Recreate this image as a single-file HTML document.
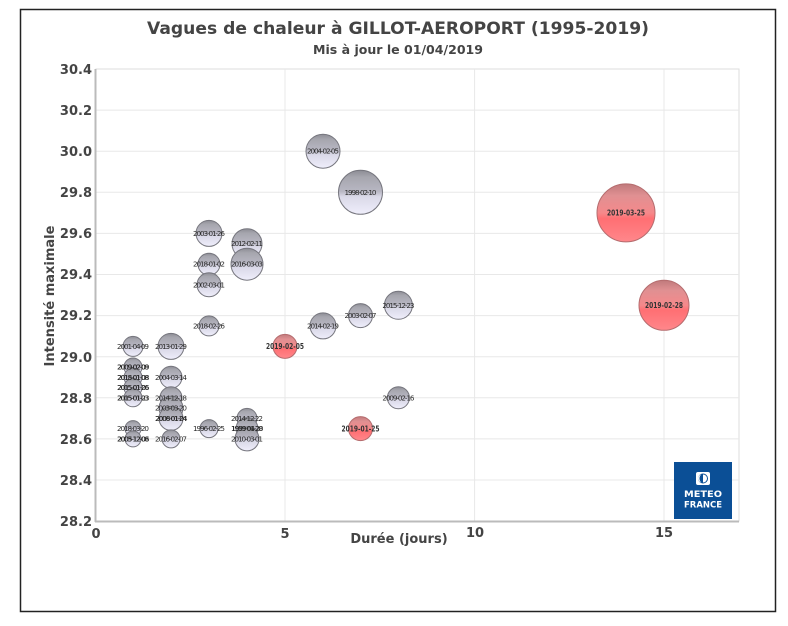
<!DOCTYPE html>
<html><head><meta charset="utf-8"><style>
html,body{margin:0;padding:0;background:#fff;}
svg{display:block;}
text{font-family:"DejaVu Sans","Liberation Sans",sans-serif;}
</style></head><body>
<svg width="788" height="626" viewBox="0 0 788 626" xmlns="http://www.w3.org/2000/svg">
<defs>
<linearGradient id="g" x1="0" y1="0" x2="0" y2="1">
<stop offset="0" stop-color="#8c8c94"/>
<stop offset="0.15" stop-color="#a6a6ae"/>
<stop offset="0.48" stop-color="#b8b7c3"/>
<stop offset="0.6" stop-color="#dad9e8"/>
<stop offset="1" stop-color="#efeefb"/>
</linearGradient>
<linearGradient id="r" x1="0" y1="0" x2="0" y2="1">
<stop offset="0" stop-color="#c07a7c"/>
<stop offset="0.2" stop-color="#e09092"/>
<stop offset="0.5" stop-color="#f5898b"/>
<stop offset="0.6" stop-color="#ff6f73"/>
<stop offset="1" stop-color="#ff878b"/>
</linearGradient>
</defs>
<rect x="0" y="0" width="788" height="626" fill="#fff"/>
<rect x="20.5" y="9.5" width="755" height="602" fill="#fff" stroke="#222" stroke-width="1.5"/>
<!-- title -->
<text x="398" y="34" text-anchor="middle" font-size="16.5" font-weight="bold" fill="#444" textLength="502" lengthAdjust="spacingAndGlyphs">Vagues de chaleur à GILLOT-AEROPORT (1995-2019)</text>
<text x="398" y="54" text-anchor="middle" font-size="12" font-weight="bold" fill="#444" textLength="170" lengthAdjust="spacingAndGlyphs">Mis à jour le 01/04/2019</text>
<!-- plot box -->
<rect x="96" y="69" width="643" height="452" fill="#fff" stroke="#dedede" stroke-width="1"/>
<g stroke="#e8e8e8" stroke-width="1">
<line x1="96" y1="110.1" x2="739" y2="110.1"/>
<line x1="96" y1="151.2" x2="739" y2="151.2"/>
<line x1="96" y1="192.3" x2="739" y2="192.3"/>
<line x1="96" y1="233.4" x2="739" y2="233.4"/>
<line x1="96" y1="274.5" x2="739" y2="274.5"/>
<line x1="96" y1="315.6" x2="739" y2="315.6"/>
<line x1="96" y1="356.7" x2="739" y2="356.7"/>
<line x1="96" y1="397.8" x2="739" y2="397.8"/>
<line x1="96" y1="438.9" x2="739" y2="438.9"/>
<line x1="96" y1="480" x2="739" y2="480"/>
<line x1="285" y1="69" x2="285" y2="521"/>
<line x1="474.6" y1="69" x2="474.6" y2="521"/>
<line x1="664" y1="69" x2="664" y2="521"/>
</g>
<line x1="95.5" y1="69" x2="95.5" y2="522" stroke="#bbb" stroke-width="2"/>
<line x1="95" y1="521.5" x2="739" y2="521.5" stroke="#bbb" stroke-width="2"/>
<!-- y tick labels -->
<g font-size="13" font-weight="bold" fill="#444" text-anchor="end">
<text x="92" y="74">30.4</text>
<text x="92" y="115">30.2</text>
<text x="92" y="156">30.0</text>
<text x="92" y="197">29.8</text>
<text x="92" y="238">29.6</text>
<text x="92" y="279">29.4</text>
<text x="92" y="320">29.2</text>
<text x="92" y="362">29.0</text>
<text x="92" y="403">28.8</text>
<text x="92" y="444">28.6</text>
<text x="92" y="485">28.4</text>
<text x="92" y="526">28.2</text>
</g>
<g font-size="13" font-weight="bold" fill="#444" text-anchor="middle">
<text x="96" y="538">0</text>
<text x="285" y="538">5</text>
<text x="475" y="537">10</text>
<text x="664" y="537">15</text>
</g>
<text x="399" y="543" text-anchor="middle" font-size="13" font-weight="bold" fill="#444">Durée (jours)</text>
<text transform="translate(54,296) rotate(-90)" text-anchor="middle" font-size="13" font-weight="bold" fill="#444">Intensité maximale</text>
<!-- bubbles -->
<g stroke="#76767e" stroke-width="1" fill="url(#g)">
<circle cx="323" cy="151.2" r="17"/>
<circle cx="360.5" cy="192.3" r="22"/>
<circle cx="209" cy="233.4" r="13"/>
<circle cx="247" cy="243.7" r="15"/>
<circle cx="209" cy="264.2" r="11"/>
<circle cx="247" cy="264.2" r="16"/>
<circle cx="209" cy="284.8" r="12"/>
<circle cx="209" cy="325.9" r="10"/>
<circle cx="323" cy="325.9" r="13"/>
<circle cx="360.5" cy="315.6" r="12"/>
<circle cx="398.4" cy="305.3" r="14"/>
<circle cx="133" cy="346.4" r="10"/>
<circle cx="171" cy="346.4" r="13"/>
<circle cx="133" cy="367" r="9"/>
<circle cx="133" cy="377.3" r="9"/>
<circle cx="171" cy="377.3" r="11"/>
<circle cx="133" cy="387.5" r="9"/>
<circle cx="133" cy="397.8" r="9"/>
<circle cx="171" cy="397.8" r="11"/>
<circle cx="171" cy="408.1" r="12"/>
<circle cx="171" cy="418.4" r="12"/>
<circle cx="398.4" cy="397.8" r="11"/>
<circle cx="133" cy="428.6" r="8"/>
<circle cx="133" cy="438.9" r="8"/>
<circle cx="171" cy="438.9" r="9"/>
<circle cx="209" cy="428.6" r="9"/>
<circle cx="247" cy="418.4" r="10"/>
<circle cx="247" cy="428.6" r="11"/>
<circle cx="247" cy="438.9" r="12"/>
</g>
<g stroke="#b56c6e" stroke-width="1" fill="url(#r)">
<circle cx="626" cy="212.9" r="29"/>
<circle cx="664" cy="305.3" r="25"/>
<circle cx="285" cy="346.4" r="12"/>
<circle cx="360.5" cy="428.6" r="12"/>
</g>
<!-- labels -->
<g font-family="Liberation Sans, sans-serif" font-size="7.2" fill="#2a2a2a" text-anchor="middle" lengthAdjust="spacingAndGlyphs">
<text x="323" y="153.7" textLength="32">2004-02-05</text>
<text x="360.5" y="194.8" textLength="32">1998-02-10</text>
<text x="209" y="235.9" textLength="32">2003-01-26</text>
<text x="247" y="246.2" textLength="32">2012-02-11</text>
<text x="209" y="266.7" textLength="32">2018-01-02</text>
<text x="247" y="266.7" textLength="32">2016-03-03</text>
<text x="209" y="287.3" textLength="32">2002-03-01</text>
<text x="209" y="328.4" textLength="32">2018-02-26</text>
<text x="323" y="328.4" textLength="32">2014-02-19</text>
<text x="360.5" y="318.1" textLength="32">2003-02-07</text>
<text x="398.4" y="307.8" textLength="32">2015-12-23</text>
<text x="133" y="348.9" textLength="32">2001-04-09</text>
<text x="171" y="348.9" textLength="32">2013-01-29</text>
<text x="133" y="369.5" textLength="32">2009-02-08</text>
<text x="133.4" y="369.5" textLength="32">2009-02-09</text>
<text x="133" y="379.8" textLength="32">2018-01-08</text>
<text x="133.4" y="379.8" textLength="32">2015-01-08</text>
<text x="171" y="379.8" textLength="32">2004-03-14</text>
<text x="133" y="390" textLength="32">2005-01-26</text>
<text x="133.4" y="390" textLength="32">2015-01-06</text>
<text x="133" y="400.3" textLength="32">2005-01-03</text>
<text x="133.4" y="400.3" textLength="32">2015-01-23</text>
<text x="171" y="400.3" textLength="32">2014-12-18</text>
<text x="171" y="410.6" textLength="32">2003-03-20</text>
<text x="171" y="420.9" textLength="32">2006-01-24</text>
<text x="171.4" y="420.9" textLength="32">2008-01-04</text>
<text x="398.4" y="400.3" textLength="32">2009-02-16</text>
<text x="133" y="431.1" textLength="32">2018-03-20</text>
<text x="133" y="441.4" textLength="32">2003-12-08</text>
<text x="133.4" y="441.4" textLength="32">2005-12-06</text>
<text x="171" y="441.4" textLength="32">2016-02-07</text>
<text x="209" y="431.1" textLength="32">1996-02-25</text>
<text x="247" y="420.9" textLength="32">2014-12-22</text>
<text x="247" y="431.1" textLength="32">1999-01-28</text>
<text x="247.4" y="431.1" textLength="32">1959-04-20</text>
<text x="247" y="441.4" textLength="32">2010-03-01</text>
</g>
<g font-family="DejaVu Sans, sans-serif" font-size="7.5" font-weight="bold" fill="#333" text-anchor="middle">
<text x="626" y="215.6" textLength="38" lengthAdjust="spacingAndGlyphs">2019-03-25</text>
<text x="664" y="308" textLength="38" lengthAdjust="spacingAndGlyphs">2019-02-28</text>
<text x="285" y="349.1" textLength="38" lengthAdjust="spacingAndGlyphs">2019-02-05</text>
<text x="360.5" y="431.3" textLength="38" lengthAdjust="spacingAndGlyphs">2019-01-25</text>
</g>
<!-- logo -->
<rect x="674" y="462" width="58" height="57" fill="#0b4f96"/>
<rect x="696" y="472" width="14" height="13" rx="2" fill="#fff"/>
<circle cx="703" cy="478.5" r="5" fill="#0b4f96"/>
<path d="M703 474.5 A4 4 0 0 1 703 482.5 Z" fill="#fff"/>
<path d="M702 474.5 A4 4 0 0 0 702 482.5 A2.5 4 0 0 1 702 474.5 Z" fill="#fff"/>
<text x="703" y="497" text-anchor="middle" font-size="9" font-weight="bold" fill="#fff" textLength="38" lengthAdjust="spacingAndGlyphs">METEO</text>
<text x="703" y="507.5" text-anchor="middle" font-size="9" font-weight="bold" fill="#fff" textLength="38" lengthAdjust="spacingAndGlyphs">FRANCE</text>
</svg>
</body></html>
